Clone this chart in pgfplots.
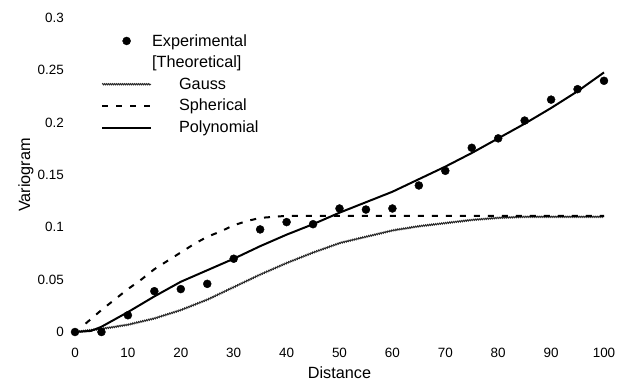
\documentclass[border=0pt]{standalone}
\usepackage{pgfplots}
\pgfplotsset{compat=1.18}
\usepackage{fontspec}
\setmainfont{Liberation Sans}
\usetikzlibrary{decorations.pathmorphing}

% Experimental variogram
\pgfplotstableread{
h gamma
0   0.000
5   0.000
10  0.016
15  0.039
20  0.041
25  0.046
30  0.070
35  0.098
40  0.105
45  0.103
50  0.118
55  0.117
60  0.118
65  0.140
70  0.154
75  0.176
80  0.185
85  0.202
90  0.222
95  0.232
100 0.240
}\experimental

% Fitted models
\pgfplotstableread{
h gamma
0   0.000
5   0.003
10  0.007
15  0.013
20  0.021
25  0.031
30  0.043
35  0.055
40  0.066
45  0.076
50  0.085
55  0.091
60  0.097
65  0.101
70  0.104
75  0.107
80  0.109
85  0.110
90  0.110
95  0.110
100 0.110
}\gauss

\pgfplotstableread{
h gamma
2    0.008
5    0.021
7.5  0.031
10   0.041
12.5 0.050
15   0.060
17.5 0.068
20   0.076
22.5 0.084
25   0.091
27.5 0.096
30   0.102
32.5 0.106
35   0.109
37.5 0.110
40   0.111
50   0.111
60   0.111
70   0.111
80   0.111
90   0.111
100  0.111
}\spherical

\pgfplotstableread{
h gamma
0   0.000
3   0.001
5   0.005
10  0.019
15  0.034
20  0.048
25  0.059
30  0.070
35  0.082
40  0.093
45  0.103
50  0.114
55  0.124
60  0.134
65  0.146
70  0.158
75  0.171
80  0.185
85  0.199
90  0.214
95  0.230
100 0.248
}\polynomial

\begin{document}
\begin{tikzpicture}
\useasboundingbox (-75bp,-51bp) rectangle (556bp,332bp);
\begin{axis}[
  at={(0,0)}, anchor=south west,
  scale only axis, width=529bp, height=314bp,
  xmin=0, xmax=100, ymin=0, ymax=0.3,
  clip=false,
  axis line style={draw=none},
  major tick length=0pt,
  xtick={0,10,...,100},
  xticklabels={0,10,20,30,40,50,60,70,80,90,100},
  ytick={0,0.05,0.1,0.15,0.2,0.25,0.3},
  yticklabels={0,0.05,0.1,0.15,0.2,0.25,0.3},
  scaled y ticks=false,
  tick label style={font=\fontsize{13.5}{16}\selectfont},
  xticklabel style={anchor=center, yshift=-21bp},
  yticklabel style={anchor=east, inner sep=0pt, xshift=-11bp},
  xlabel={Distance},
  ylabel={Variogram},
  label style={font=\fontsize{16.3}{19}\selectfont},
  xlabel style={at={(axis description cs:0.5,-0.1306)}, anchor=center},
  ylabel style={at={(axis description cs:-0.0926,0.5)}, anchor=center},
  legend image code/.code={%
    \draw[mark repeat=2,mark phase=2,#1]
      plot coordinates {(0bp,0bp) (24.5bp,0bp) (49bp,0bp)};},
  legend style={draw=none, fill=none, inner sep=0pt,
    at={(rel axis cs:0.049,0.955)}, anchor=north west,
    font=\fontsize{16.3}{19}\selectfont,
    column sep=25bp, row sep=4.5bp,
    cells={anchor=west}},
]
\addplot[only marks, mark=*, mark size=4bp, black]
  table[x=h, y=gamma] {\experimental};
\addlegendentry{\hspace*{-27bp}Experimental}
\addlegendimage{empty legend}
\addlegendentry{\hspace*{-27bp}[Theoretical]}

\addplot[black!85, line width=0.9bp, decorate,
  decoration={snake, amplitude=0.7bp, segment length=2bp}]
  table[x=h, y=gamma] {\gauss};
\addlegendentry{Gauss}

\addplot[black, line width=2bp, dash pattern=on 6bp off 8bp]
  table[x=h, y=gamma] {\spherical};
\addlegendentry{Spherical}

\addplot[black, line width=2bp]
  table[x=h, y=gamma] {\polynomial};
\addlegendentry{Polynomial}
\end{axis}
\end{tikzpicture}
\end{document}
